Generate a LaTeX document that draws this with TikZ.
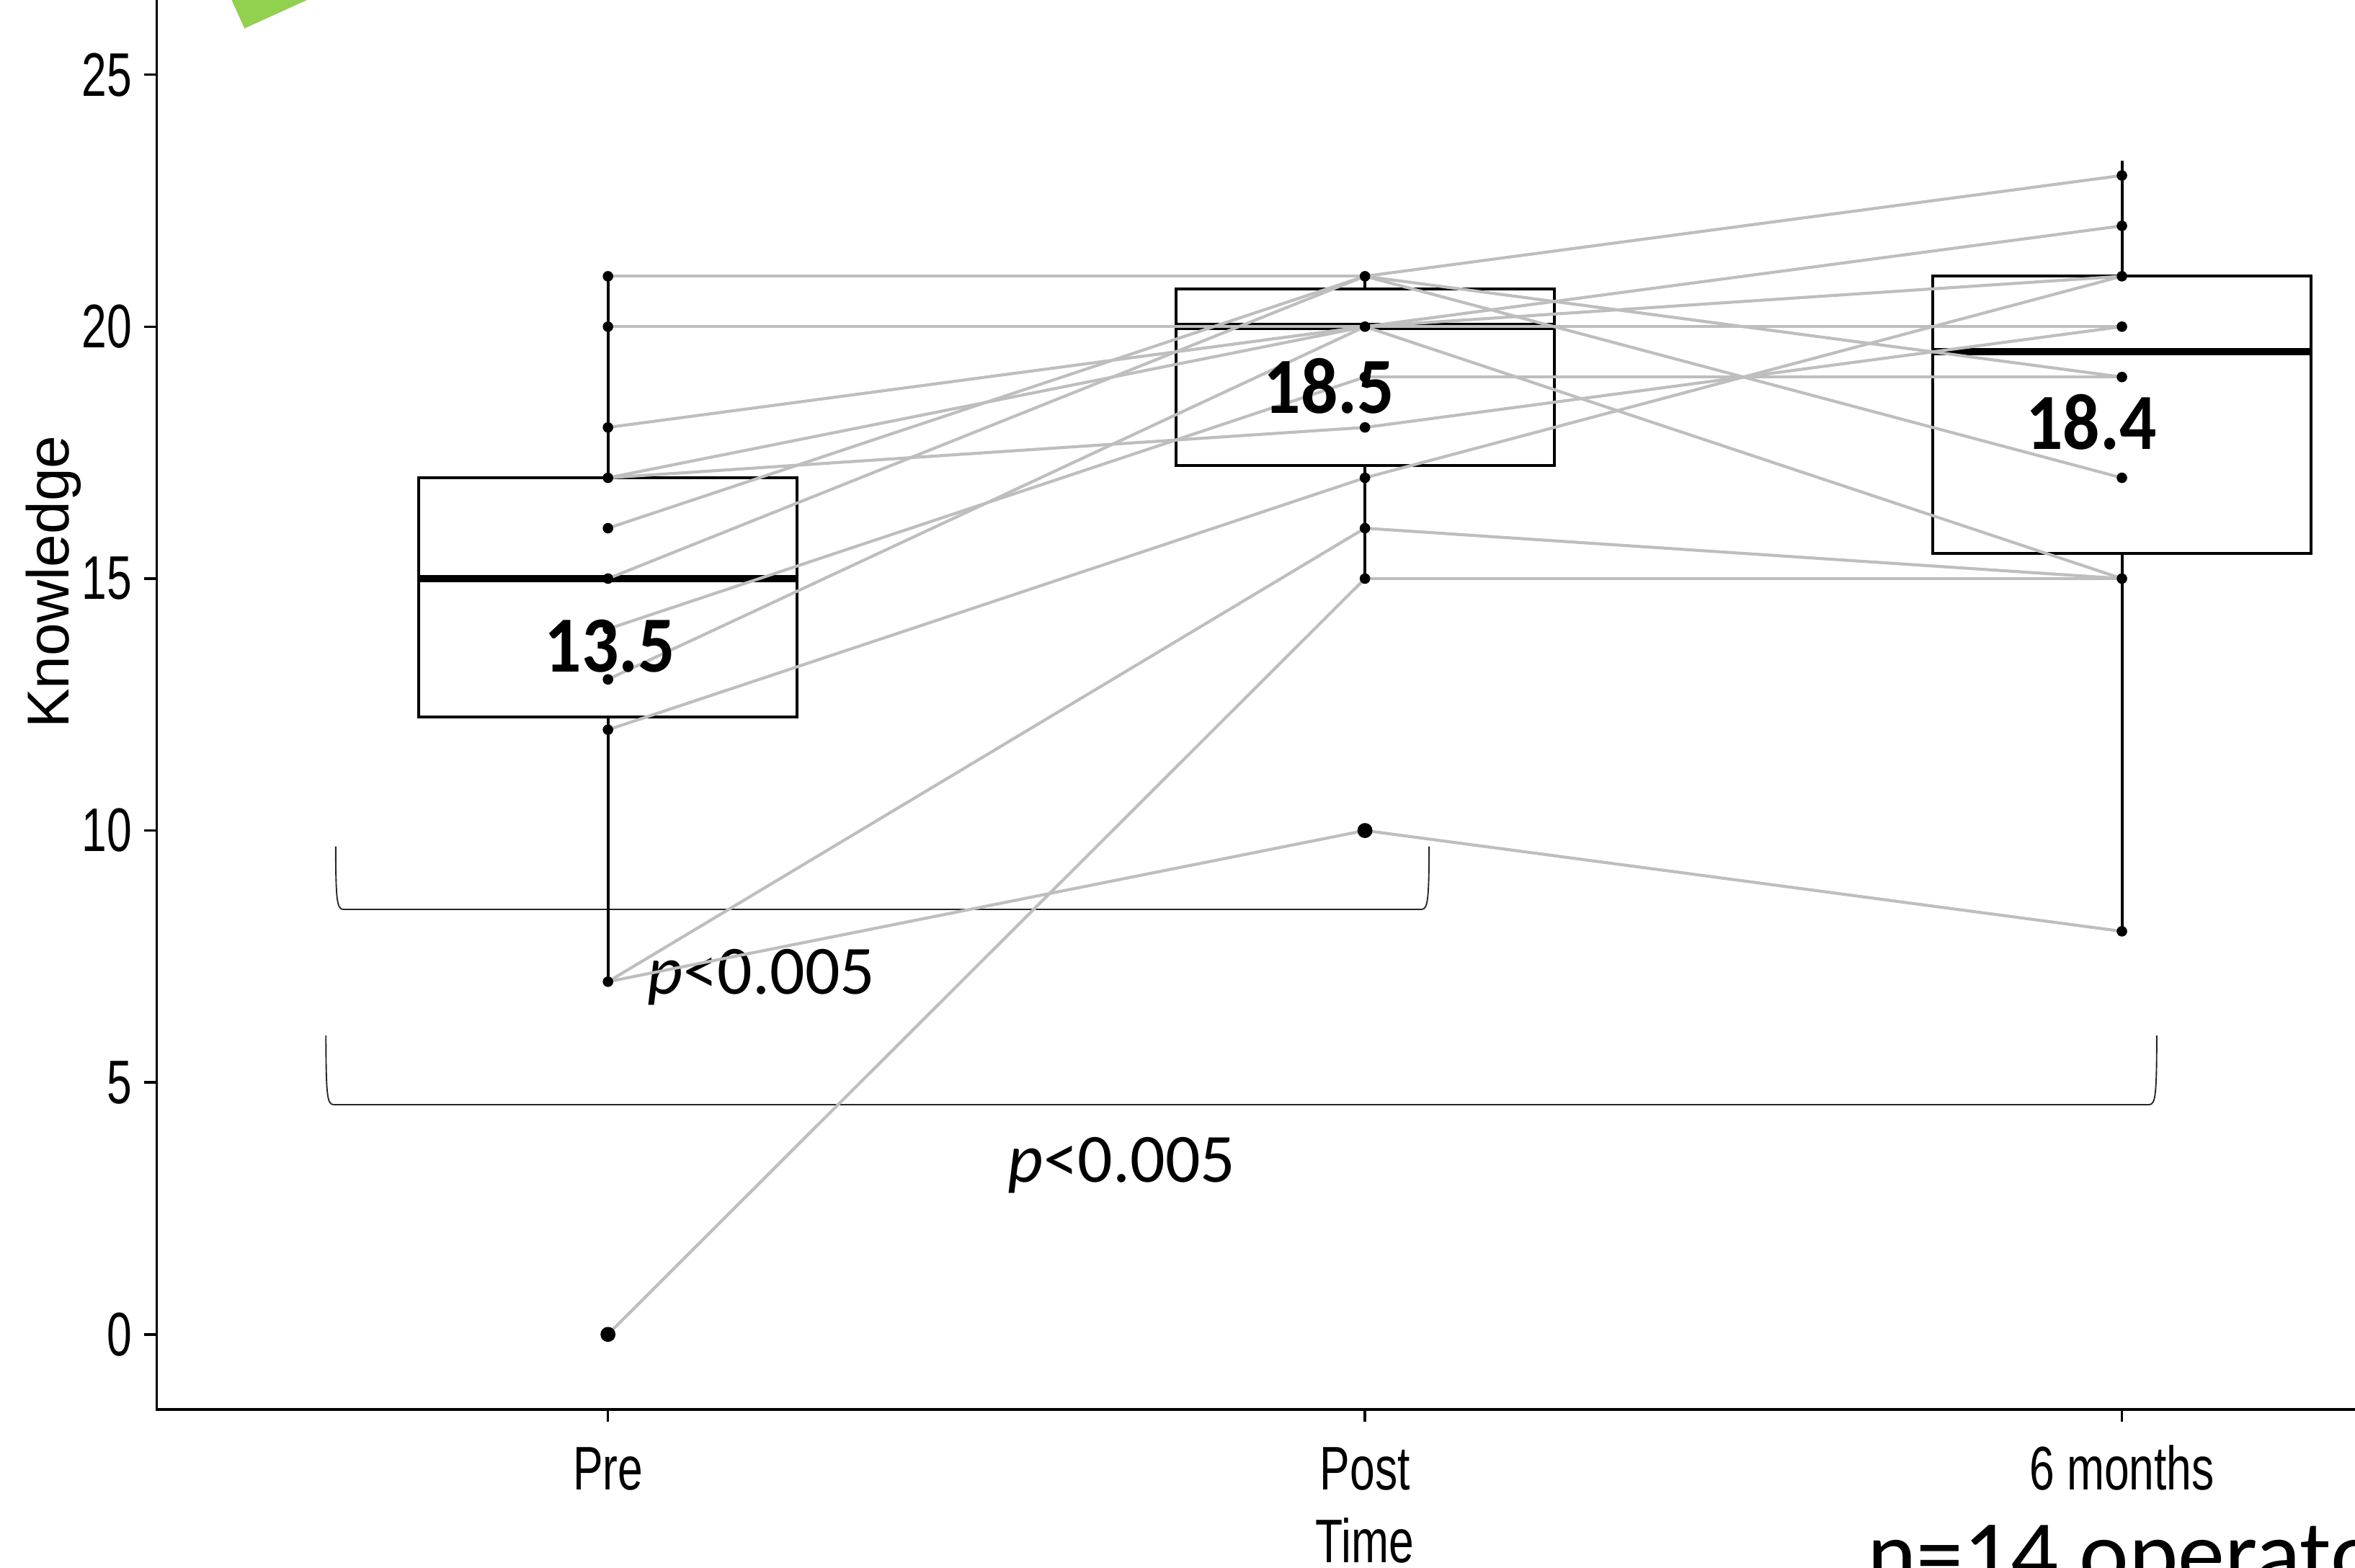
\documentclass[tikz,border=0pt]{standalone}
\usepackage{fontspec}
\setmainfont{Liberation Sans}
\newfontfamily\narrowsans[FakeStretch=0.73]{Liberation Sans}
\newfontfamily\calibrifont{Carlito}
\newfontfamily\calibrinarrow[FakeStretch=0.92]{Carlito}
\definecolor{linegray}{RGB}{190,190,190}
\definecolor{slidegreen}{RGB}{146,208,80}
\begin{document}
\begin{tikzpicture}[x=1pt,y=-1pt,
  axisline/.style={line width=1.8pt, line join=miter},
  tickline/.style={line width=1.7pt},
  boxst/.style={draw, line width=1.9pt},
  medst/.style={line width=4.8pt},
  whisk/.style={line width=1.9pt},
  conn/.style={draw=linegray, line width=2pt},
  dotst/.style={circle, fill=black, inner sep=0pt, minimum size=7pt},
  outst/.style={circle, fill=black, inner sep=0pt, minimum size=10pt},
  ticklab/.style={inner sep=0pt, font=\narrowsans\fontsize{41}{41}\selectfont},
  ylabst/.style={inner sep=0pt, font=\fontsize{39.4}{39.4}\selectfont},
  brace/.style={draw=black!85, line width=0.9pt},
  pval/.style={inner sep=0pt, font=\calibrifont\fontsize{46}{46}\selectfont},
  meanlab/.style={inner sep=0pt, font=\calibrinarrow\bfseries\fontsize{53}{53}\selectfont},
  nlab/.style={inner sep=0pt, font=\calibrifont\fontsize{62.5}{62.5}\selectfont}]
\path[use as bounding box] (0,0) rectangle (1568,1044);
\clip (0,0) rectangle (1568,1044);

% green shape in the corner
\fill[slidegreen] (151.9,-5) -- (215.5,-5) -- (162.8,18.9) -- cycle;

% axes
\draw[axisline] (104.3,-3) -- (104.3,938.5) -- (1572,938.5);
\foreach \v in {0,5,10,15,20,25}{
  \draw[tickline] (96,{888.5-33.55*\v}) -- (104.3,{888.5-33.55*\v});
  \node[ticklab, anchor=east] (yl\v) at (88,{888.5-33.55*\v}) {\v};
}
\draw[tickline] (404.8,938.5) -- (404.8,946.5);
\draw[tickline] (908.8,938.5) -- (908.8,946.5);
\draw[tickline] (1412.8,938.5) -- (1412.8,946.5);
\node[ticklab, anchor=base] (xpre) at (404.8,992) {Pre};
\node[ticklab, anchor=base] (xpost) at (908.8,992) {Post};
\node[ticklab, anchor=base] (xsix) at (1412.8,992) {6 months};
\node[ticklab, anchor=base] (xtime) at (908.8,1040.5) {Time};
\node[ylabst, rotate=90, anchor=base] (ylab) at (46,387.5) {Knowledge};

% significance brackets
\draw[brace] (223.5,563.6) .. controls (223.6,598) and (224.2,605.5) .. (228.5,605.5)
  -- (946.5,605.5) .. controls (950.8,605.5) and (951.4,598) .. (951.5,563.6);
\draw[brace] (217,689.5) .. controls (217.1,728) and (217.7,735.5) .. (222,735.5)
  -- (1431,735.5) .. controls (1435.3,735.5) and (1435.9,728) .. (1436,689.5);
\node[pval, anchor=base west] (p1) at (431,662) {\textit{p}<0.005};
\node[pval, anchor=base west] (p2) at (671,787) {\textit{p}<0.005};

\begin{scope}[shift={(404.8,888.5)}, x=504pt, y=33.55pt]
  % data points
  \foreach \v in {21,20,18,17,16,15,14,13,12,7,0}{\coordinate (a\v) at (0,\v);}
  \foreach \v in {21,20,19,18,17,16,15,10}{\coordinate (b\v) at (1,\v);}
  \foreach \v in {23,22,21,20,19,17,15,8}{\coordinate (c\v) at (2,\v);}
  % boxes and whiskers
  \draw[boxst] (-0.25,12.25) rectangle (0.25,17);
  \draw[medst] (-0.25,15) -- (0.25,15);
  \draw[whisk] (0,17) -- (0,21);
  \draw[whisk] (0,12.25) -- (0,7);
  \draw[boxst] (0.75,17.25) rectangle (1.25,20.75);
  \draw[medst] (0.75,20) -- (1.25,20);
  \draw[whisk] (1,20.75) -- (1,21);
  \draw[whisk] (1,17.25) -- (1,15);
  \draw[boxst] (1.75,15.5) rectangle (2.25,21);
  \draw[medst] (1.75,19.5) -- (2.25,19.5);
  \draw[whisk] (2,21) -- (2,23.3);
  \draw[whisk] (2,15.5) -- (2,8);
  % individual trajectories
  \foreach \p/\q in {a21/b21,a20/b20,a18/b20,a17/b20,a17/b18,a16/b21,a15/b21,
                     a14/b19,a13/b20,a12/b17,a7/b16,a7/b10,a0/b15,
                     b21/c23,b21/c19,b21/c17,b20/c22,b20/c21,b20/c20,b20/c15,
                     b19/c19,b18/c20,b17/c21,b16/c15,b15/c15,b10/c8}{
    \draw[conn] (\p) -- (\q);
  }
  % dots
  \foreach \v in {21,20,18,17,16,15,14,13,12,7}{\node[dotst] (da\v) at (a\v) {};}
  \node[outst] (da0) at (a0) {};
  \foreach \v in {21,20,19,18,17,16,15}{\node[dotst] (db\v) at (b\v) {};}
  \node[outst] (db10) at (b10) {};
  \foreach \v in {23,22,21,20,19,17,15,8}{\node[dotst] (dc\v) at (c\v) {};}
\end{scope}

% means
\node[meanlab, anchor=base] (m1) at (406.2,447.5) {13.5};
\node[meanlab, anchor=base] (m2) at (885,275) {18.5};
\node[meanlab, anchor=base] (m3) at (1392.5,299) {18.4};

% footnote (cut off by the picture edge, as in the reference)
\node[nlab, anchor=base west] (nop) at (1243,1056) {n=14 operators};
\end{tikzpicture}
\end{document}
